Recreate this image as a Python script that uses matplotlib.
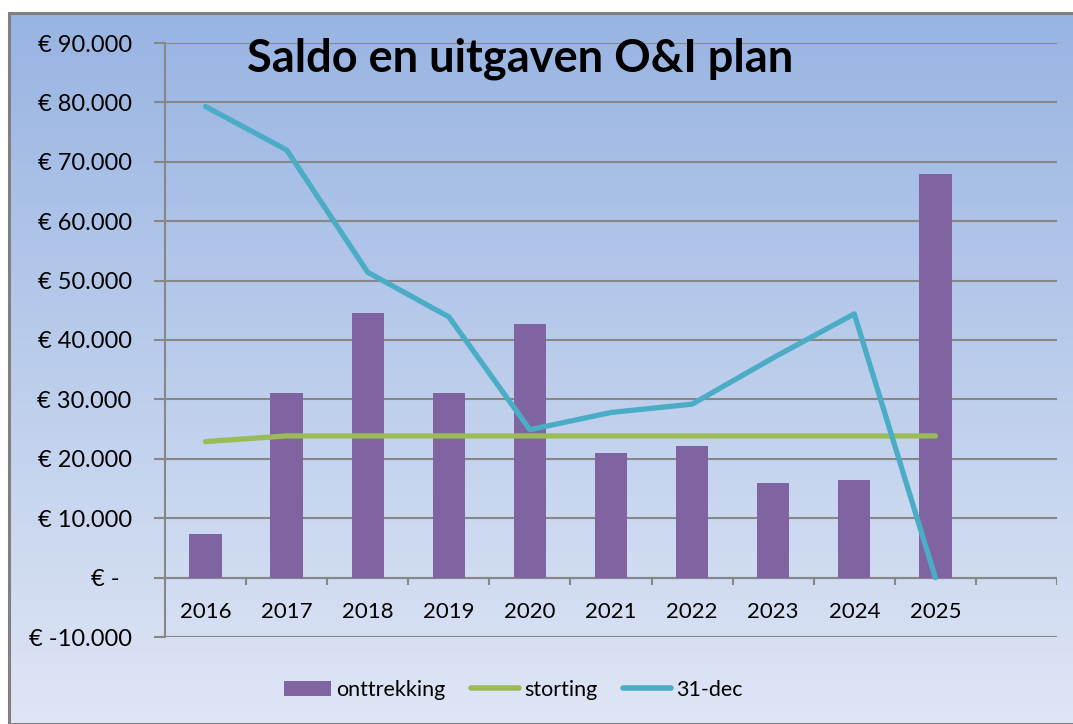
import matplotlib
matplotlib.use('Agg')
import matplotlib.pyplot as plt
import numpy as np
from matplotlib.patches import Patch, Rectangle
from matplotlib.lines import Line2D
from matplotlib.colors import LinearSegmentedColormap

# ── data
jaren = ['2016', '2017', '2018', '2019', '2020', '2021', '2022', '2023', '2024', '2025']
onttrekking = [7300, 31000, 44500, 31000, 42700, 21000, 22200, 16000, 16500, 68000]
storting = [22900, 23850, 23850, 23850, 23850, 23850, 23850, 23850, 23850, 23850]
saldo_31dec = [79300, 72000, 51400, 43900, 24900, 27800, 29200, 37000, 44400, 0]
n_slots = 11   # Excel liet een lege categorie na 2025 over

y_ticks = [-10000, 0, 10000, 20000, 30000, 40000, 50000, 60000, 70000, 80000, 90000]
y_labels = ['€ -10.000', '€ -\u00a0\u00a0', '€ 10.000', '€ 20.000', '€ 30.000', '€ 40.000',
            '€ 50.000', '€ 60.000', '€ 70.000', '€ 80.000', '€ 90.000']

PAARS = '#8064a2'
GROEN = '#9bbb59'
CYAAN = '#4bacc6'
GRIJS = '#878787'

plt.rcParams['font.family'] = ['Lato', 'DejaVu Sans']

W, H = 1073, 724
fig = plt.figure(figsize=(W / 100, H / 100), dpi=100)
fig.patch.set_facecolor('white')

# ── achtergrond met verloop
bg = fig.add_axes([9 / W, 0, 1 - 9 / W, 1 - 13 / H])
bg.set_axis_off()
cmap = LinearSegmentedColormap.from_list('vl', ['#98b4e2', '#dfe6f5'])
grad = np.linspace(0, 1, 256).reshape(-1, 1)
bg.imshow(grad, aspect='auto', cmap=cmap, extent=[0, 1, 0, 1], origin='upper')
bg.add_patch(Rectangle((0, 0), 1.2, 1, transform=bg.transAxes, fill=False,
                       edgecolor='#808080', linewidth=2.2, clip_on=False))
bg.set_xlim(0, 1); bg.set_ylim(0, 1)

# ── hoofdgrafiek
L, R, T, B = 165, 1057, 43, 637
ax = fig.add_axes([L / W, 1 - B / H, (R - L) / W, (B - T) / H])
ax.set_facecolor('none')

x = np.arange(len(jaren))
ax.bar(x, onttrekking, width=0.4, color=PAARS, zorder=3)
ax.plot(x, storting, color=GROEN, linewidth=3.8, solid_capstyle='round',
        solid_joinstyle='round', zorder=4)
ax.plot(x, saldo_31dec, color=CYAAN, linewidth=3.8, solid_capstyle='round',
        solid_joinstyle='round', zorder=5)

ax.set_xlim(-0.5, n_slots - 0.5)
ax.set_ylim(-10000, 90000)
ax.set_yticks(y_ticks)
ax.set_yticklabels(y_labels, fontsize=17)
ax.yaxis.grid(True, color=GRIJS, linewidth=1.5, zorder=1)
ax.tick_params(axis='y', length=8, width=1.5, color=GRIJS, pad=16)
ax.set_xticks([])

for s in ['top', 'right', 'bottom']:
    ax.spines[s].set_visible(False)
ax.spines['left'].set_color(GRIJS)
ax.spines['left'].set_linewidth(1.5)

# x-as op nul met streepjes tussen de categorieën
ax.axhline(0, color=GRIJS, linewidth=1.5, zorder=2)
grenzen = np.arange(n_slots) + 0.5
ax.vlines(grenzen, -1200, 0, color=GRIJS, linewidth=1.5, zorder=2)
for xi, jaar in zip(x, jaren):
    ax.text(xi, -5800, jaar, ha='center', va='center', fontsize=16)

fig.text(520 / W, 1 - 59 / H, 'Saldo en uitgaven O&I plan', ha='center', va='center',
         fontsize=32.5, fontweight='bold')

handles = [Patch(facecolor=PAARS, label='onttrekking'),
           Line2D([0], [0], color=GROEN, linewidth=4, solid_capstyle='round', label='storting'),
           Line2D([0], [0], color=CYAAN, linewidth=4, solid_capstyle='round', label='31-dec')]
fig.legend(handles=handles, loc='center', bbox_to_anchor=(513 / W, 1 - 690 / H), ncol=3,
           frameon=False, fontsize=15.5, handlelength=2.2, handleheight=0.7,
           handletextpad=0.25, columnspacing=1.2)

plt.savefig('out.png', dpi=100)
